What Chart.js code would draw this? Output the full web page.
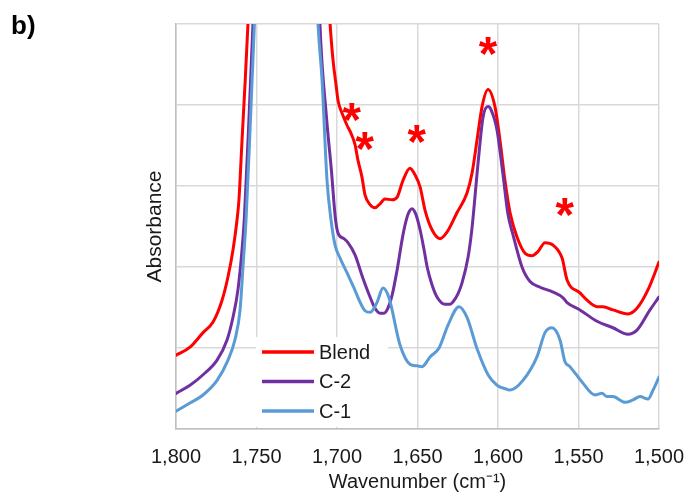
<!DOCTYPE html>
<html>
<head>
<meta charset="utf-8">
<script src="https://cdn.jsdelivr.net/npm/chart.js@4/dist/chart.umd.min.js"></script>
<style>
  html, body { margin: 0; padding: 0; background: #ffffff; }
  canvas { display: block; }
</style>
</head>
<body>
<canvas id="ftir" width="688" height="500"></canvas>
<script>
// FTIR spectra, carbonyl / amide region (absorbance, arbitrary offset units)
const wnBlend = [1800, 1791.3, 1783.2, 1777.0, 1771.4, 1767.7, 1764.6, 1762.1, 1760.9, 1759.0,
  1757.1, 1755.3, 1752, 1745, 1730, 1715, 1708, 1704.3, 1702.5, 1700.6,
  1699.4, 1696.9, 1693.8, 1691.3, 1688.8, 1687.0, 1684.5, 1682.6, 1679.5, 1676.4,
  1673.3, 1670.2, 1665.8, 1662.7, 1659.0, 1654.7, 1651.6, 1648.4, 1645.3, 1641.0,
  1636.0, 1631.7, 1625.5, 1619.3, 1616.1, 1613.0, 1609.9, 1606.2, 1601.9, 1598.8,
  1595.7, 1592.5, 1588.2, 1583.2, 1578.9, 1575.2, 1570.8, 1565.8, 1560.2, 1557.1,
  1549.1, 1544.7, 1538.5, 1534.8, 1528.6, 1519.3, 1513.7, 1506.8, 1500];
const absBlend = [0.91, 1.01, 1.19, 1.32, 1.59, 1.88, 2.21, 2.58, 2.83, 3.56,
  4.27, 5.0, 6.3, 8.3, 9.5, 8.5, 6.2, 5.0, 4.56, 4.25,
  4.06, 3.90, 3.75, 3.65, 3.51, 3.32, 3.11, 2.89, 2.77, 2.73,
  2.78, 2.84, 2.83, 2.86, 3.07, 3.22, 3.14, 2.99, 2.70, 2.46,
  2.35, 2.43, 2.67, 2.91, 3.16, 3.57, 3.98, 4.19, 3.98, 3.57,
  3.07, 2.67, 2.37, 2.17, 2.14, 2.19, 2.30, 2.27, 2.11, 1.84,
  1.68, 1.59, 1.51, 1.51, 1.47, 1.42, 1.49, 1.72, 2.06];

const wnC2 = [1800, 1791.3, 1783.2, 1774.5, 1768.3, 1764.6, 1761.5, 1759.0, 1757.5, 1754.7,
  1752.2, 1748, 1740, 1725, 1715, 1710.6, 1706.4, 1703.5, 1701.1, 1699.4,
  1695.7, 1693.2, 1688.8, 1683.9, 1679.5, 1676.4, 1673.3, 1670.8, 1668.9, 1665.8,
  1662.7, 1659.0, 1655.9, 1653.4, 1651.0, 1648.4, 1645.9, 1644.1, 1641.0, 1637.9,
  1632.9, 1629.8, 1627.9, 1624.8, 1622.4, 1618.6, 1616.1, 1612.4, 1609.3, 1606.2,
  1604.3, 1600.6, 1596.9, 1593.8, 1590.7, 1585.1, 1580.1, 1573.9, 1565.8, 1559.6,
  1557.1, 1549.1, 1538.5, 1528.6, 1519.3, 1513.7, 1505.6, 1500];
const absC2 = [0.44, 0.54, 0.67, 0.85, 1.10, 1.38, 1.72, 2.21, 2.62, 3.82,
  5.0, 7.0, 9.5, 10, 8, 5.0, 3.82, 3.2, 2.62, 2.42,
  2.35, 2.30, 2.15, 1.86, 1.63, 1.49, 1.43, 1.43, 1.47, 1.65,
  1.96, 2.40, 2.65, 2.72, 2.65, 2.46, 2.21, 2.01, 1.78, 1.63,
  1.54, 1.54, 1.57, 1.67, 1.80, 2.12, 2.49, 3.28, 3.85, 3.98,
  3.94, 3.69, 3.14, 2.65, 2.40, 2.00, 1.82, 1.75, 1.69, 1.62,
  1.56, 1.47, 1.33, 1.25, 1.17, 1.22, 1.47, 1.63];

const wnC1 = [1800, 1791.3, 1783.2, 1774.5, 1767.7, 1763.4, 1760.2, 1758.4, 1756.5, 1754.0,
  1751.3, 1745, 1730, 1718, 1711.8, 1709.3, 1706.2, 1703.7, 1701.2, 1698.1,
  1693.8, 1690.1, 1682.6, 1679.5, 1675.2, 1671.4, 1667.7, 1660.9, 1654.7, 1650.3,
  1647.2, 1642.2, 1636.6, 1631.1, 1624.2, 1619.3, 1613.0, 1606.2, 1600.6, 1594.4,
  1592.5, 1584.5, 1575.8, 1570.8, 1566.5, 1561.5, 1558.4, 1555.3, 1547.8, 1539.8,
  1535.4, 1532.3, 1528.6, 1521.1, 1516.1, 1511.8, 1506.8, 1503.7, 1500];
const absC1 = [0.22, 0.32, 0.42, 0.60, 0.85, 1.10, 1.47, 2.00, 2.58, 3.70,
  5.0, 8, 10, 8, 5.0, 4.31, 3.07, 2.58, 2.27, 2.11,
  1.93, 1.77, 1.46, 1.44, 1.56, 1.74, 1.62, 1.04, 0.80, 0.78,
  0.77, 0.89, 1.00, 1.28, 1.51, 1.38, 0.99, 0.67, 0.54, 0.49,
  0.48, 0.60, 0.89, 1.19, 1.25, 1.10, 0.83, 0.77, 0.58, 0.42,
  0.44, 0.40, 0.40, 0.33, 0.36, 0.40, 0.37, 0.48, 0.64];

const seriesNames = ['Blend', 'C-2', 'C-1'];
const seriesColors = ['#ff0000', '#7030a0', '#5b9bd5'];

// x axis: 1,800 down to 1,500 cm-1 in steps of 50
const xMin = 1500, xMax = 1800, xStep = 50;
// y axis: unlabeled absorbance grid
const yMin = 0, yMax = 5, yStep = 1;

// peaks flagged with an asterisk (wavenumber, absorbance position)
const markWn  = [1690.7, 1682.6, 1650.3, 1606.0, 1558.4];
const markAbs = [3.91, 3.56, 3.64, 4.73, 2.74];

const FONT = "'Liberation Sans', Arial, Helvetica, sans-serif";
const TEXT = '#1a1a1a';

const toPoints = (wn, abs) => wn.map((x, i) => ({ x: x, y: abs[i] }));

// red asterisks over the flagged bands
const peakMarks = {
  id: 'peakMarks',
  afterDatasetsDraw(chart) {
    const { ctx, scales } = chart;
    ctx.save();
    ctx.font = 'bold 100px ' + FONT;
    const ref = ctx.measureText('*');
    const size = 100 * 18 / (ref.actualBoundingBoxAscent + ref.actualBoundingBoxDescent);
    ctx.font = 'bold ' + size.toFixed(1) + 'px ' + FONT;
    const g = ctx.measureText('*');
    ctx.fillStyle = '#ff0000';
    ctx.textAlign = 'left';
    ctx.textBaseline = 'alphabetic';
    markWn.forEach((w, i) => {
      const cx = scales.x.getPixelForValue(w);
      const cy = scales.y.getPixelForValue(markAbs[i]);
      const bx = cx - (g.actualBoundingBoxRight - g.actualBoundingBoxLeft) / 2;
      const by = cy + (g.actualBoundingBoxAscent - g.actualBoundingBoxDescent) / 2;
      ctx.fillText('*', bx, by);
    });
    ctx.restore();
  }
};

// legend box sitting inside the plot, lower left
const boxLegend = {
  id: 'boxLegend',
  afterDraw(chart) {
    const { ctx, chartArea } = chart;
    const left = chartArea.left + 80, top = chartArea.bottom - 92;
    ctx.save();
    ctx.fillStyle = '#ffffff';
    ctx.fillRect(left, top, 132, 90);
    ctx.font = '20px ' + FONT;
    ctx.textAlign = 'left';
    ctx.textBaseline = 'middle';
    chart.data.datasets.forEach((ds, i) => {
      const yy = top + 15 + i * 29.5;
      ctx.strokeStyle = ds.borderColor;
      ctx.lineWidth = 3.5;
      ctx.beginPath();
      ctx.moveTo(left + 6, yy);
      ctx.lineTo(left + 58, yy);
      ctx.stroke();
      ctx.fillStyle = TEXT;
      ctx.fillText(ds.label, left + 63, yy + 1);
    });
    ctx.restore();
  }
};

// panel letter
const panelLabel = {
  id: 'panelLabel',
  afterDraw(chart) {
    const { ctx } = chart;
    ctx.save();
    ctx.font = 'bold 26px ' + FONT;
    ctx.fillStyle = '#000000';
    ctx.textAlign = 'left';
    ctx.textBaseline = 'alphabetic';
    ctx.fillText('b)', 11, 34);
    ctx.restore();
  }
};

const gridStyle = { color: '#d9d9d9', lineWidth: 1.5, drawTicks: false };
const borderStyle = { color: '#bfbfbf', width: 1.5 };

new Chart(document.getElementById('ftir'), {
  type: 'line',
  data: {
    datasets: [
      { label: seriesNames[0], data: toPoints(wnBlend, absBlend), borderColor: seriesColors[0], order: 2 },
      { label: seriesNames[1], data: toPoints(wnC2, absC2), borderColor: seriesColors[1], order: 1 },
      { label: seriesNames[2], data: toPoints(wnC1, absC1), borderColor: seriesColors[2], order: 0 }
    ]
  },
  options: {
    responsive: false,
    animation: false,
    devicePixelRatio: 1,
    layout: { padding: { left: 143, top: 24, right: 29, bottom: 0 } },
    elements: {
      point: { radius: 0, hoverRadius: 0 },
      line: { borderWidth: 3, cubicInterpolationMode: 'monotone', fill: false, borderCapStyle: 'round', borderJoinStyle: 'round' }
    },
    plugins: {
      legend: { display: false },
      tooltip: { enabled: false }
    },
    scales: {
      x: {
        type: 'linear',
        reverse: true,
        min: xMin,
        max: xMax,
        grid: gridStyle,
        border: borderStyle,
        ticks: {
          stepSize: xStep,
          autoSkip: false,
          maxRotation: 0,
          padding: 16,
          color: TEXT,
          font: { family: FONT, size: 20 },
          callback: (v) => Number(v).toLocaleString('en-US')
        },
        title: {
          display: true,
          text: 'Wavenumber (cm\u207B\u00B9)',
          color: TEXT,
          font: { family: FONT, size: 20 },
          padding: { top: 0, bottom: 6 }
        },
        afterFit: (s) => { s.height = 71; s.paddingLeft = 0; s.paddingRight = 0; }
      },
      y: {
        type: 'linear',
        min: yMin,
        max: yMax,
        grid: gridStyle,
        border: borderStyle,
        ticks: { stepSize: yStep, display: false },
        title: {
          display: true,
          text: 'Absorbance',
          color: TEXT,
          font: { family: FONT, size: 21 },
          padding: { top: 0, bottom: 0 }
        },
        afterFit: (s) => { s.width = 33; s.paddingTop = 0; s.paddingBottom = 0; }
      }
    }
  },
  plugins: [peakMarks, boxLegend, panelLabel]
});
</script>
</body>
</html>
